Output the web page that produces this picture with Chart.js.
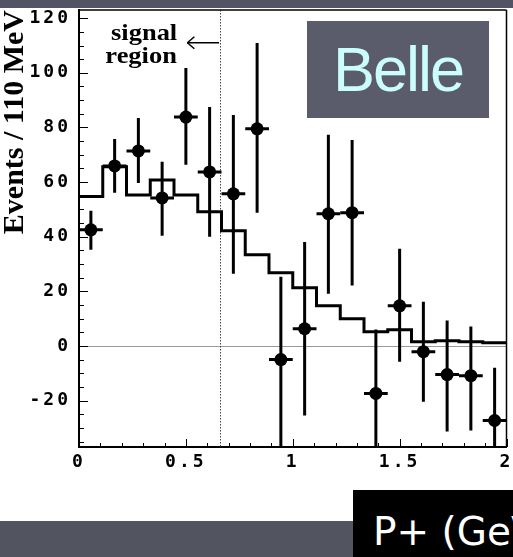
<!DOCTYPE html>
<html>
<head>
<meta charset="utf-8">
<script src="https://cdn.jsdelivr.net/npm/chart.js@4.4.1/dist/chart.umd.min.js"></script>
<style>
  html, body { margin: 0; padding: 0; background: #fff; }
  #slide { position: relative; width: 513px; height: 557px; overflow: hidden; background: #fff; }
  #top-strip { position: absolute; left: 0; top: 0; width: 513px; height: 8px; background: #535463; }
  #bottom-band { position: absolute; left: 0; top: 521px; width: 513px; height: 36px; background: #52545f; }
  #chart-box { position: absolute; left: 0; top: 0; width: 513px; height: 557px; }
  #belle { position: absolute; left: 307px; top: 21px; width: 182px; height: 97px; background: #5b5c6b;
           color: #ccfdfd; font-family: "Liberation Sans", sans-serif; font-size: 63px; letter-spacing: -2px;
           line-height: 97px; text-align: center; }
  #unit-box { position: absolute; left: 353px; top: 490px; width: 160px; height: 67px; background: #000; overflow: hidden; }
  #unit-box span { position: absolute; left: 20px; top: 22px; line-height: 39px; white-space: nowrap;
                   color: #fff; font-family: "DejaVu Sans", sans-serif; font-size: 39px; }
</style>
</head>
<body>
<div id="slide">
  <div id="top-strip"></div>
  <div id="bottom-band"></div>
  <div id="chart-box"><canvas id="chart"></canvas></div>
  <div id="belle">Belle</div>
  <div id="unit-box"><span>P+ (GeV)</span></div>
</div>
<script>
// bins of 2 GeV / 18
const binCenters = [0.0556, 0.1667, 0.2778, 0.3889, 0.5, 0.6111, 0.7222, 0.8333, 0.9444,
                    1.0556, 1.1667, 1.2778, 1.3889, 1.5, 1.6111, 1.7222, 1.8333, 1.9444];
const binWidth = 0.1111;

// data points (events) with error bar ends
const counts  = [42.5, 65.9, 71.4, 54.2, 83.8, 63.7, 55.7, 79.5, -5.0, 6.3, 48.4, 48.8, -17.4, 14.7, -2.1, -10.5, -10.9, -27.3];
const errHigh = [49.5, 75.8, 83.5, 67.4, 101.8, 87.5, 84.6, 110.9, 25.3, 38.1, 77.3, 75.4, 6.0, 35.6, 16.2, 9.3, 7.1, -8.0];
const errLow  = [35.2, 56.1, 59.7, 40.3, 66.3, 40.0, 26.4, 48.8, -45, -25.5, 19.1, 22.1, -45, -5.8, -20.4, -31.3, -31.0, -45];

// histogram (expectation)
const histValues = [54.7, 65.6, 55.3, 60.8, 55.3, 49.1, 42.2, 33.4, 26.8, 21.3, 14.7, 10.0, 5.2, 5.9, 1.5, 1.9, 1.5, 1.2];

const signalEdge = 0.66;
const xTickValues = [0, 0.5, 1, 1.5, 2];
const xTickLabels = ["0", "0.5", "1", "1.5", "2"];
const yTickValues = [-20, 0, 20, 40, 60, 80, 100, 120];
const yTickLabels = ["-20", "0", "20", "40", "60", "80", "100", "120"];
const yMinorStep = 5;

const histPoints = histValues.map((v, i) => ({ x: binCenters[i] - binWidth / 2, y: v }));
histPoints.push({ x: binCenters[binCenters.length - 1] + binWidth / 2, y: histValues[histValues.length - 1] });
const dataPoints = counts.map((v, i) => ({ x: binCenters[i], y: v }));

const tickFont = { family: "'DejaVu Sans Mono'", weight: "bold", size: 18 };

function isMajor(list, v) {
  return list.findIndex(t => Math.abs(t - v) < 1e-6);
}

function seg(ctx, x1, y1, x2, y2) {
  ctx.beginPath();
  ctx.moveTo(x1, y1);
  ctx.lineTo(x2, y2);
  ctx.stroke();
}

// frame, inner ticks, zero line, signal line, error bars
const decorations = {
  id: "decorations",
  beforeDatasetsDraw(chart) {
    const { ctx, chartArea: a, scales: { x, y } } = chart;
    ctx.save();

    // zero line
    ctx.strokeStyle = "#9a9a9a";
    ctx.lineWidth = 1;
    const y0 = Math.round(y.getPixelForValue(0)) + 0.5;
    seg(ctx, a.left, y0, a.right, y0);

    // signal region boundary
    ctx.strokeStyle = "#444";
    ctx.setLineDash([1.5, 1.5]);
    const xs = Math.round(x.getPixelForValue(signalEdge)) + 0.5;
    seg(ctx, xs, a.top, xs, a.bottom);
    ctx.setLineDash([]);

    // ticks pointing inward
    ctx.strokeStyle = "#000";
    ctx.lineWidth = 1;
    y.ticks.forEach(t => {
      const py = Math.round(y.getPixelForValue(t.value)) + 0.5;
      const len = isMajor(yTickValues, t.value) >= 0 ? 9 : 5;
      seg(ctx, a.left, py, a.left + len, py);
    });
    x.ticks.forEach(t => {
      const px = Math.round(x.getPixelForValue(t.value)) + 0.5;
      const len = isMajor(xTickValues, t.value) >= 0 ? 8 : 4;
      seg(ctx, px, a.bottom, px, a.bottom - len);
    });

    // top and right frame
    ctx.lineWidth = 1.5;
    seg(ctx, a.left, a.top, a.right, a.top);
    seg(ctx, a.right, a.top, a.right, a.bottom);

    // error bars
    ctx.beginPath();
    ctx.rect(a.left, a.top, a.right - a.left, a.bottom - a.top);
    ctx.clip();
    ctx.lineWidth = 3;
    binCenters.forEach((c, i) => {
      const px = x.getPixelForValue(c);
      seg(ctx, px, y.getPixelForValue(errLow[i]), px, y.getPixelForValue(errHigh[i]));
      const py = y.getPixelForValue(counts[i]);
      seg(ctx, x.getPixelForValue(c - binWidth / 2), py, x.getPixelForValue(c + binWidth / 2), py);
    });
    ctx.restore();
  },
  afterDatasetsDraw(chart) {
    const { ctx, scales: { x, y } } = chart;
    ctx.save();
    // "signal region" label and arrow
    ctx.fillStyle = "#000";
    ctx.font = "bold 23px 'Liberation Serif'";
    ctx.textAlign = "center";
    ctx.textBaseline = "alphabetic";
    const cx = x.getPixelForValue(0.3);
    ctx.save();
    ctx.scale(1.15, 1);
    ctx.fillText("signal", (cx + 1) / 1.15, y.getPixelForValue(112));
    ctx.fillText("region", (cx - 2) / 1.15, y.getPixelForValue(103.6));
    ctx.restore();

    ctx.strokeStyle = "#000";
    ctx.lineWidth = 1.5;
    const ay = y.getPixelForValue(111);
    const tip = x.getPixelForValue(0.507);
    seg(ctx, tip, ay, x.getPixelForValue(signalEdge) - 1, ay);
    seg(ctx, tip, ay, tip + 7, ay - 6);
    seg(ctx, tip, ay, tip + 7, ay + 6);
    ctx.restore();

    // wide spacing for the axis numbers drawn next
    ctx.letterSpacing = "3px";
  },
  afterDraw(chart) {
    chart.ctx.letterSpacing = "0px";
  }
};

new Chart(document.getElementById("chart"), {
  type: "scatter",
  data: {
    datasets: [
      {
        type: "line",
        data: histPoints,
        stepped: "before",
        borderColor: "#000",
        borderWidth: 3,
        pointRadius: 0,
        fill: false
      },
      {
        type: "scatter",
        data: dataPoints,
        pointRadius: 6.5,
        pointHoverRadius: 6.5,
        backgroundColor: "#000",
        borderWidth: 0
      }
    ]
  },
  options: {
    responsive: true,
    maintainAspectRatio: false,
    animation: false,
    events: [],
    layout: { padding: { top: 10, right: 4, left: 0, bottom: 0 } },
    plugins: { legend: { display: false }, tooltip: { enabled: false } },
    scales: {
      x: {
        type: "linear",
        min: 0,
        max: 2,
        grid: { display: false, drawTicks: false },
        border: { display: true, color: "#000", width: 2 },
        ticks: {
          stepSize: 0.1,
          includeBounds: false,
          autoSkip: false,
          maxRotation: 0,
          padding: 5,
          z: 1,
          color: "#000",
          font: tickFont,
          callback: v => {
            const k = isMajor(xTickValues, v);
            return k >= 0 ? xTickLabels[k] : "";
          }
        },
        afterFit: s => { s.height = 110; s.paddingLeft = 0; s.paddingRight = 0; }
      },
      y: {
        min: -37,
        max: 123,
        grid: { display: false, drawTicks: false },
        border: { display: true, color: "#000", width: 2 },
        ticks: {
          autoSkip: false,
          padding: 8,
          z: 1,
          color: "#000",
          font: tickFont,
          callback: v => {
            const k = isMajor(yTickValues, v);
            return k >= 0 ? yTickLabels[k] : "";
          }
        },
        // minor ticks every 5 between the labelled ones
        afterBuildTicks: s => {
          const ticks = [];
          const first = Math.ceil(s.min / yMinorStep) * yMinorStep;
          for (let v = first; v <= s.max; v += yMinorStep) ticks.push({ value: v });
          s.ticks = ticks;
        },
        title: {
          display: true,
          text: "Events / 110 MeV",
          align: "end",
          color: "#000",
          padding: { top: 0, bottom: 0 },
          font: { family: "'Liberation Serif'", weight: "bold", size: 30, lineHeight: 1 }
        },
        afterFit: s => { s.width = 79; s.paddingTop = 0; s.paddingBottom = 0; }
      }
    }
  },
  plugins: [decorations]
});
</script>
</body>
</html>
